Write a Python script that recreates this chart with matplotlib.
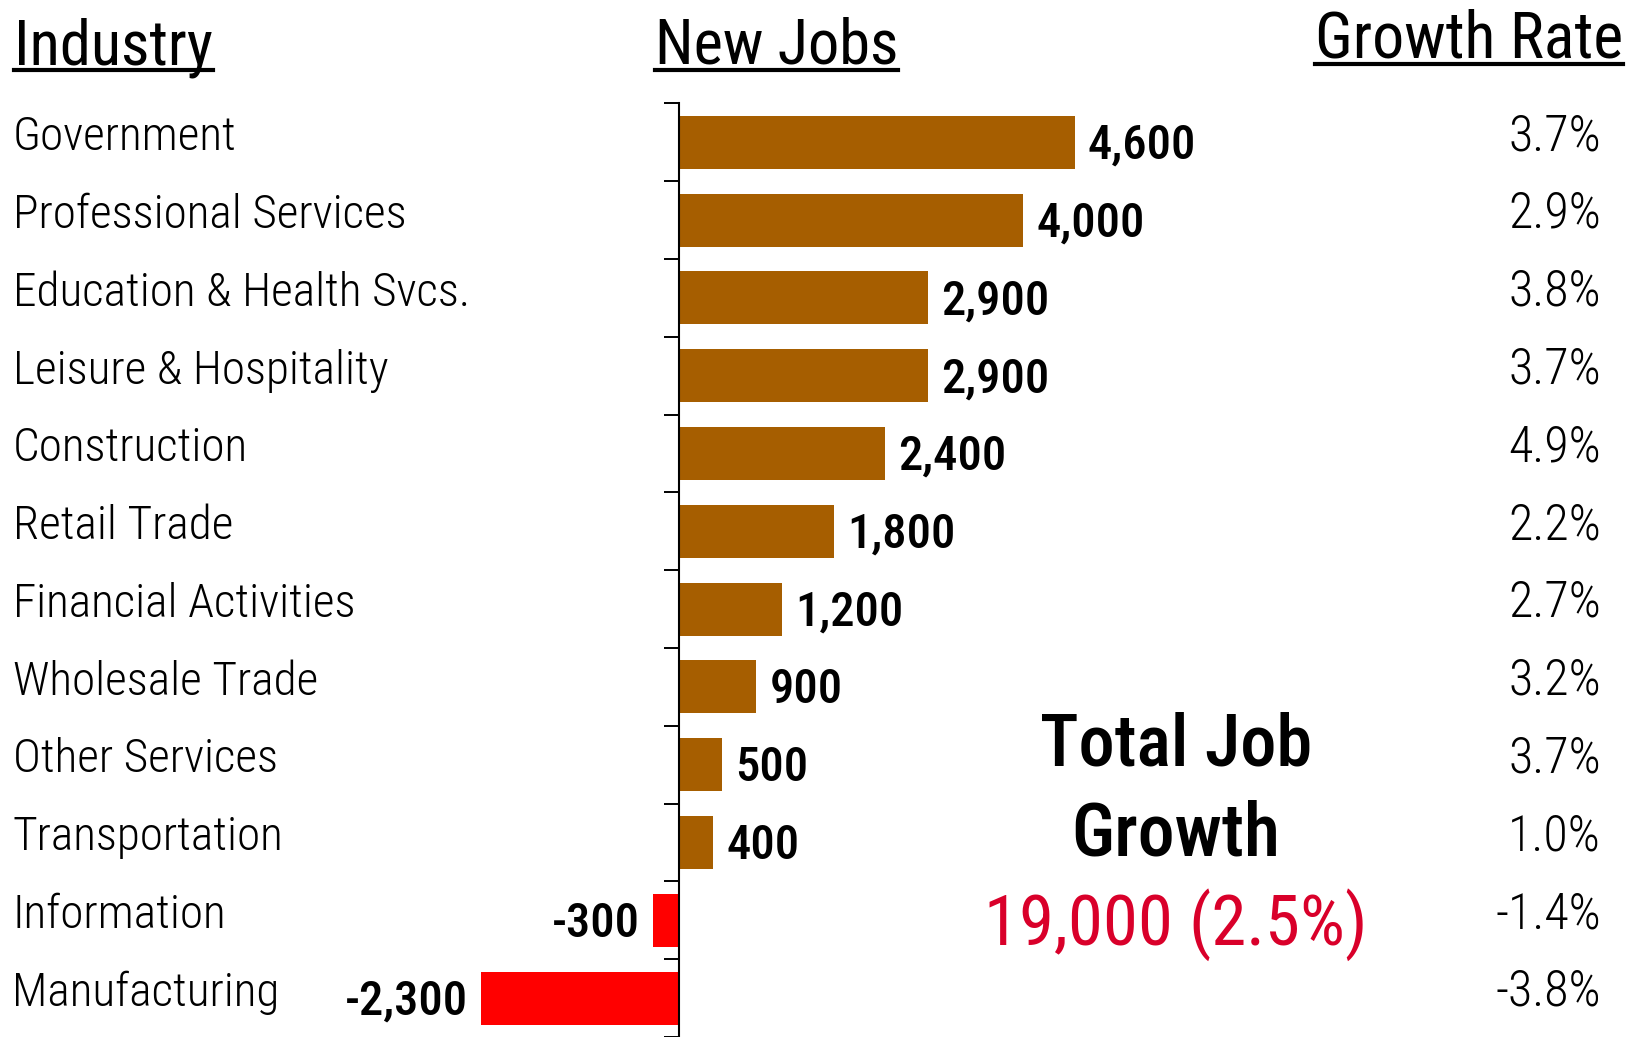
import matplotlib
matplotlib.use("Agg")
import matplotlib.pyplot as plt
from matplotlib.lines import Line2D

# job growth by industry
industries = ["Government", "Professional Services", "Education & Health Svcs.",
              "Leisure & Hospitality", "Construction", "Retail Trade",
              "Financial Activities", "Wholesale Trade", "Other Services",
              "Transportation", "Information", "Manufacturing"]
new_jobs = [4600, 4000, 2900, 2900, 2400, 1800, 1200, 900, 500, 400, -300, -2300]
growth_rate = [3.7, 2.9, 3.8, 3.7, 4.9, 2.2, 2.7, 3.2, 3.7, 1.0, -1.4, -3.8]
total_jobs = 19000
total_rate = 2.5

BROWN = "#A65E00"
RED = "#FF0000"
TOTAL_RED = "#D9002A"
COND = ["Roboto Condensed", "DejaVu Sans"]

W, H = 1635, 1037
fig = plt.figure(figsize=(W / 100, H / 100), dpi=100)
ax = fig.add_axes([0, 0, 1, 1])

# pixel scale: 0.086 px per job, 78.2 px per row, zero line at x=679, first row edge at y=104
px_per_job = 0.086
row = 78.2
ax.set_xlim(-679 / px_per_job, (W - 679) / px_per_job)
ax.set_ylim(-0.5 + (H - 104) / row, -0.5 - 104 / row)

ypos = list(range(len(industries)))
colors = [BROWN if v >= 0 else RED for v in new_jobs]
ax.barh(ypos, new_jobs, height=0.68, color=colors, zorder=2)

for s in ["top", "right", "bottom"]:
    ax.spines[s].set_visible(False)
ax.spines["left"].set_position(("data", 0))
ax.spines["left"].set_linewidth(1.5)
ax.spines["left"].set_bounds(-0.5, len(industries) - 0.5)
ax.spines["left"].set_zorder(3)
ax.set_yticks([i - 0.5 for i in range(len(industries) + 1)])
ax.set_yticklabels([])
ax.tick_params(axis="y", direction="out", length=10.8, width=1.4, color="black")
ax.set_xticks([])

gap = 13 / px_per_job
for i, v in enumerate(new_jobs):
    txt = f"{v:,}"
    if v >= 0:
        ax.text(v + gap, i + 0.21, txt, ha="left", va="baseline",
                fontsize=35, fontweight=500, family=COND)
    else:
        ax.text(v - gap, i + 0.21, txt, ha="right", va="baseline",
                fontsize=35, fontweight=500, family=COND)

for i, (name, g) in enumerate(zip(industries, growth_rate)):
    ax.text(12.5 / W, i + 0.1, name, transform=ax.get_yaxis_transform(),
            ha="left", va="baseline", fontsize=34, fontweight=300, family=COND)
    ax.text(1601 / W, i + 0.1, f"{g:.1f}%", transform=ax.get_yaxis_transform(),
            ha="right", va="baseline", fontsize=36, fontweight=300, family=COND)

# column headers with underlines
headers = [("Industry", 14, 64, 70, 45), ("New Jobs", 655, 64, 70, 45),
           ("Growth Rate", 1315, 57, 63.5, 46)]
hdr_texts = []
for label, x, base, uline, size in headers:
    t = fig.text(x / W, 1 - base / H, label, ha="left", va="baseline",
                 fontsize=size, fontweight=400, family=COND)
    hdr_texts.append((t, uline))

# total block
fig.text(1176 / W, 1 - 766 / H, "Total Job", ha="center", va="baseline",
         fontsize=52, fontweight=500, family=COND)
fig.text(1176 / W, 1 - 855 / H, "Growth", ha="center", va="baseline",
         fontsize=53, fontweight=500, family=COND)
fig.text(1176 / W, 1 - 945 / H, f"{total_jobs:,} ({total_rate}%)", ha="center",
         va="baseline", fontsize=51, color=TOTAL_RED, family=COND)

fig.canvas.draw()
r = fig.canvas.get_renderer()
for t, uline in hdr_texts:
    bb = t.get_window_extent(r)
    fig.add_artist(Line2D([bb.x0 / W, bb.x1 / W], [1 - uline / H, 1 - uline / H],
                          transform=fig.transFigure, color="black", lw=3))

fig.savefig("out.png", dpi=100)
